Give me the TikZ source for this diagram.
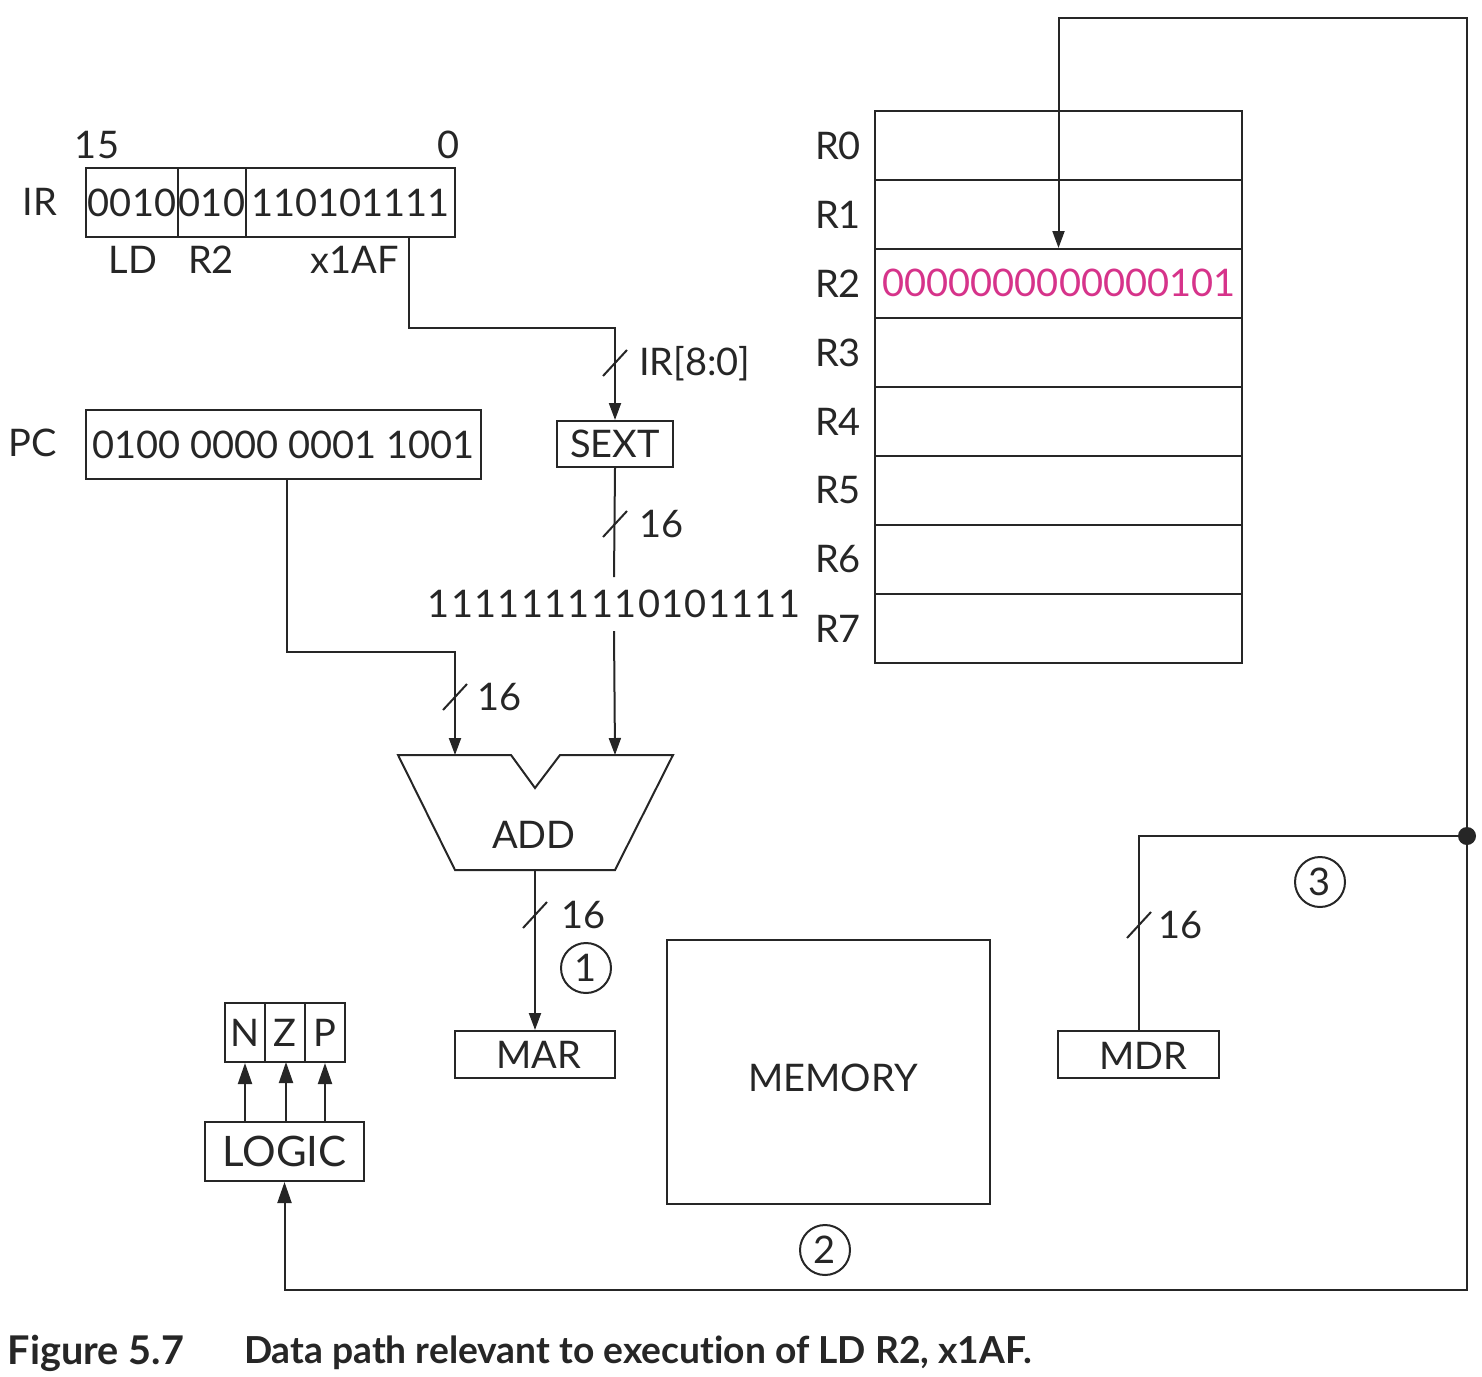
\documentclass[tikz,border=0pt]{standalone}
\usepackage{fontspec}
\setmainfont{Lato}[Numbers=Monospaced]
\usetikzlibrary{arrows.meta,calc}
\definecolor{ink}{HTML}{262626}
\definecolor{mag}{RGB}{214,51,138}
\newcommand\dfont{\fontsize{19pt}{22pt}\selectfont}
\begin{document}
\begin{tikzpicture}[x=0.5pt,y=-0.5pt,line width=1pt,color=ink,
  box/.style={draw=ink,inner sep=0pt,font=\dfont,text=ink},
  lbl/.style={inner sep=0pt,font=\dfont,text=ink},
  arr/.style={-{Triangle[length=8.5pt,width=6pt]}},
  bigarr/.style={-{Triangle[length=10.5pt,width=7pt]}},
  circ/.style={draw=ink,circle,minimum size=25pt,inner sep=0pt,font=\dfont,text=ink},
  captxt/.style={inner sep=0pt,text=ink,anchor=west}]
\useasboundingbox (0,0) rectangle (1482,1376);

% ---------- IR ----------
\node[box,minimum width=46pt,minimum height=34.5pt] (ld) at (132,202.5) {0010};
\node[box,minimum width=34pt,minimum height=34.5pt] (dr) at (212,202.5) {010};
\node[box,minimum width=104.5pt,minimum height=34.5pt] (off) at (350.5,202.5) {110101111};
\node[lbl] (irl) at (40,202) {IR};
\node[lbl] (b15) at (97,145) {15};
\node[lbl] (b0) at (449,145) {0};
\node[lbl] (ldl) at (133,260) {LD};
\node[lbl] (r2l) at (211,260) {R2};
\node[lbl] (offl) at (355,260) {x1AF};

% ---------- PC ----------
\node[box,minimum width=197.5pt,minimum height=34.5pt] (pc) at (283.5,444.5) {0100 0000 0001 1001};
\node[lbl] (pcl) at (33,443) {PC};

% ---------- SEXT ----------
\node[box,minimum width=58pt,minimum height=23pt] (sext) at (615,444) {SEXT};
\node[lbl,minimum height=26pt] (sx) at (614,604) {\addfontfeature{LetterSpace=3.5}1111111110101111};

% ---------- ADD ----------
\coordinate (addL) at (455,755);
\coordinate (addR) at (615,755);
\coordinate (addO) at (535,870);
\draw (398,755) -- (511,755) -- (535,788) -- (560,755) -- (673,755) -- (615,870) -- (455,870) -- cycle;
\node[lbl] (addt) at (534,835) {ADD};

% ---------- MAR / MEMORY / MDR ----------
\node[box,minimum width=80pt,minimum height=23.5pt] (mar) at (535,1054.5) {};
\node[lbl] (mart) at (539,1055) {MAR};
\node[box,minimum width=161.5pt,minimum height=132pt] (mem) at (828.5,1072) {};
\node[lbl] (memt) at (833,1078) {MEMORY};
\node[box,minimum width=80.5pt,minimum height=23.5pt] (mdr) at (1138.5,1054.5) {};
\node[lbl] (mdrt) at (1143,1056) {MDR};

% ---------- Register file ----------
\foreach \k in {0,...,7}{
  \node[box,minimum width=183.5pt,minimum height=34.5pt] (r\k) at (1058.5,{145.5+69*\k}) {};
  \node[lbl] (rl\k) at (838,{145.5+69*\k}) {R\k};
}
\node[lbl,text=mag] (r2v) at (1059,283) {0000000000000101};

% ---------- LOGIC / NZP ----------
\node[box,minimum width=79.5pt,minimum height=29.5pt,font=\fontsize{21pt}{24pt}\selectfont] (logic) at (284.5,1151.5) {LOGIC};
\node[box,minimum width=20pt,minimum height=29.5pt] (n) at (245,1032.5) {N};
\node[box,minimum width=20pt,minimum height=29.5pt] (z) at (285,1032.5) {Z};
\node[box,minimum width=20pt,minimum height=29.5pt] (p) at (325,1032.5) {P};
\draw[bigarr] (n.south |- logic.north) -- (n.south);
\draw[bigarr] (286,1122) -- (286,1062);
\draw[bigarr] (p.south |- logic.north) -- (p.south);

% ---------- connectors ----------
\coordinate (irtap) at (409,237);
\coordinate (irbend) at (409,328);
\draw[arr] (irtap) -- (irbend) -| (sext.north);
\draw (sext.south) -- (sx.north);
\draw[arr] (sx.south) -- (addR);
\coordinate (pctap) at (287,479);
\coordinate (pcbend) at (287,652);
\draw[arr] (pctap) -- (pcbend) -| (addL);
\draw[arr] (addO) -- (mar.north);

\coordinate (junc) at (1467,836);
\coordinate (loopTR) at (1467,18);
\coordinate (loopBR) at (1467,1290);
\draw[arr] (junc) -- (loopTR) -| (r2.north);
\draw (mdr.north) |- (junc);
\draw[bigarr] (junc) -- (loopBR) -| (logic.south);
\fill[ink] (junc) circle (4.5pt);

% ---------- bus width marks ----------
\foreach \x/\y in {615/363, 615/524, 455/697, 535/915, 1139/925}{
  \draw ($(\x,\y)+(-12,13)$) -- ($(\x,\y)+(12,-13)$);
}
\node[lbl,anchor=west] (w1) at (638,364) {IR[8:0]};
\node[lbl,anchor=west] (w2) at (638,524) {16};
\node[lbl,anchor=west] (w3) at (476,697) {16};
\node[lbl,anchor=west] (w4) at (560,915) {16};
\node[lbl,anchor=west] (w5) at (1157,925) {16};

% ---------- step numbers ----------
\node[circ] (c1) at (586,968) {1};
\node[circ] (c2) at (825,1250) {2};
\node[circ] (c3) at (1320,882) {3};

% ---------- caption ----------
\node[captxt,font=\fontsize{19.8pt}{23pt}\selectfont\bfseries] (fig) at (7,1353) {Figure 5.7};
\node[captxt,font=\fontsize{18.6pt}{23pt}\selectfont\bfseries\addfontfeature{Ligatures=NoCommon}] (figt) at (243,1353) {Data path relevant to execution of LD R2, x1AF.};
\end{tikzpicture}
\end{document}
